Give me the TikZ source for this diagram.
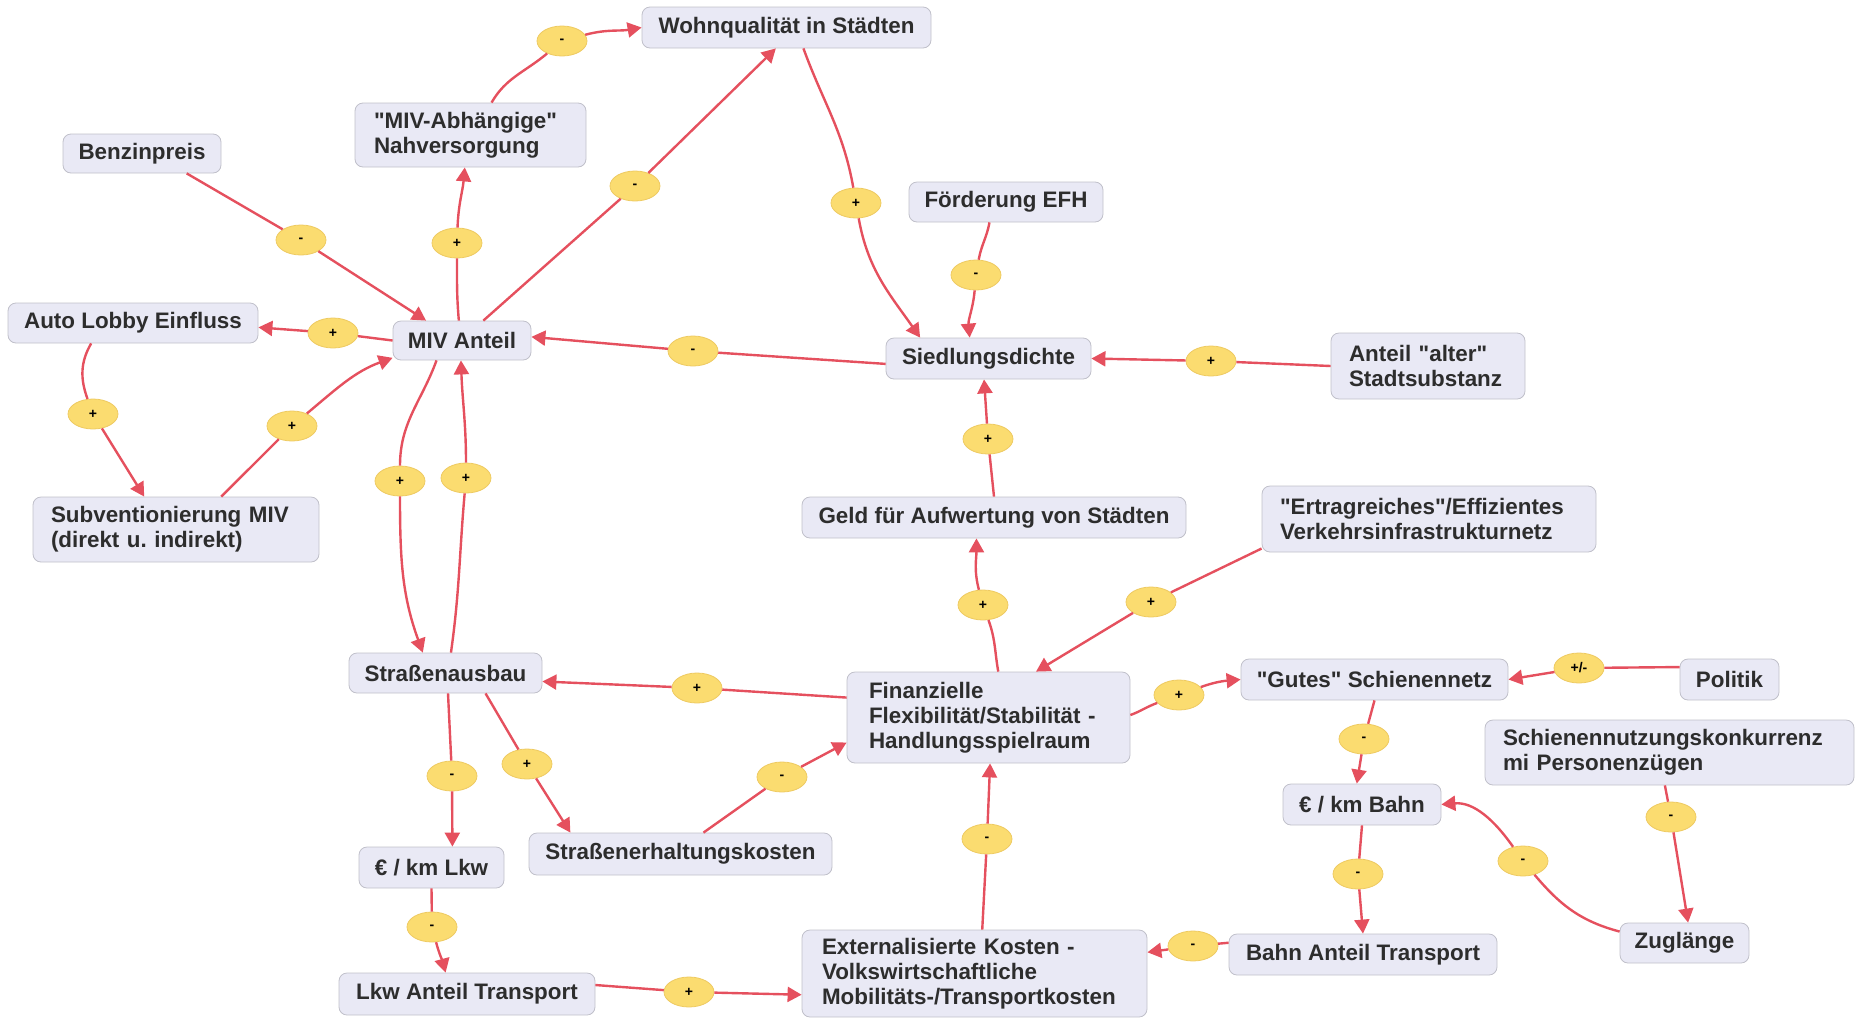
\documentclass[tikz,border=0pt]{standalone}
\usepackage{fontspec}
\setmainfont{Liberation Sans}[Ligatures=TeXOff]
\usetikzlibrary{arrows.meta,shapes.geometric}

\definecolor{linkred}{RGB}{229,80,94}
\definecolor{boxfill}{RGB}{233,233,245}
\definecolor{boxline}{RGB}{192,192,202}
\definecolor{signfill}{RGB}{251,220,112}
\definecolor{signline}{RGB}{238,202,98}
\definecolor{textgray}{RGB}{45,45,45}

\tikzset{
	varbox/.style={draw=boxline, fill=boxfill, rounded corners=4pt, text=textgray,
		font=\fontsize{11.2}{12.5}\selectfont\bfseries, inner xsep=7pt, inner ysep=3pt},
	multibox/.style={varbox, align=left},
	sgn/.style={ellipse, draw=signline, fill=signfill, minimum width=25pt, minimum height=15pt,
		inner sep=0pt, text=black, font=\fontsize{7}{8}\selectfont\bfseries},
	infl/.style={draw=linkred, line width=1.2pt, -{Triangle[length=7pt,width=7.5pt]}},
}

\begin{document}
\begin{tikzpicture}[x=0.5pt,y=-0.5pt]
	\useasboundingbox (0,0) rectangle (1860,1018);

	\node[varbox, minimum width=144.5pt, minimum height=20.5pt] (wohn) at (786.5,27.5) {Wohnqualität in Städten};
	\node[multibox, text width=96.5pt, inner xsep=9.5pt, minimum height=32pt] (nahv) at (470.5,135) {"MIV-Abhängige"\\Nahversorgung};
	\node[varbox, minimum width=79pt, minimum height=19.5pt] (benzin) at (142,153.5) {Benzinpreis};
	\node[varbox, minimum width=97pt, minimum height=20pt] (efh) at (1006,202) {Förderung EFH};
	\node[varbox, minimum width=125pt, minimum height=20pt] (lobby) at (133,323) {Auto Lobby Einfluss};
	\node[varbox, minimum width=69pt, minimum height=19.5pt] (miv) at (462,340.5) {MIV Anteil};
	\node[varbox, minimum width=102.5pt, minimum height=20.5pt] (sied) at (988.5,358.5) {Siedlungsdichte};
	\node[multibox, text width=79pt, inner xsep=9pt, minimum height=33pt] (alt) at (1428,366) {Anteil "alter"\\Stadtsubstanz};
	\node[multibox, text width=125pt, inner xsep=9pt, minimum height=32.5pt] (subv) at (176,529.5) {Subventionierung MIV\\(direkt u.\ indirekt)};
	\node[varbox, minimum width=192pt, minimum height=20.5pt] (geld) at (994,517.5) {Geld für Aufwertung von Städten};
	\node[multibox, text width=149pt, inner xsep=9pt, minimum height=33pt] (ertrag) at (1429,519) {"Ertragreiches"/Effizientes\\Verkehrsinfrastrukturnetz};
	\node[varbox, minimum width=96.5pt, minimum height=20pt] (strass) at (445.5,673) {Straßenausbau};
	\node[multibox, text width=119.5pt, inner xsep=11pt, minimum height=45.5pt] (finanz) at (988.5,717.5) {Finanzielle\\Flexibilität/Stabilität -\\Handlungsspielraum};
	\node[varbox, minimum width=133.5pt, minimum height=20.5pt] (gutes) at (1374.5,679.5) {"Gutes" Schienennetz};
	\node[varbox, minimum width=49.5pt, minimum height=20.5pt] (politik) at (1729.5,679.5) {Politik};
	\node[multibox, text width=166.5pt, inner xsep=9pt, minimum height=32.5pt] (konk) at (1669.5,752.5) {Schienennutzungskonkurrenz\\mi Personenzügen};
	\node[varbox, minimum width=79pt, minimum height=20.5pt] (eurobahn) at (1362,804.5) {€ / km Bahn};
	\node[varbox, minimum width=64.5pt, minimum height=20pt] (zug) at (1684.5,943) {Zuglänge};
	\node[varbox, minimum width=134pt, minimum height=20.5pt] (bahn) at (1363,954.5) {Bahn Anteil Transport};
	\node[multibox, text width=152.5pt, inner xsep=10pt, minimum height=43.5pt] (ext) at (974.5,973.5) {Externalisierte Kosten -\\Volkswirtschaftliche\\Mobilitäts-/Transportkosten};
	\node[varbox, minimum width=128pt, minimum height=21pt] (lkw) at (467,994) {Lkw Anteil Transport};
	\node[varbox, minimum width=72.5pt, minimum height=20.5pt] (eurolkw) at (431.5,867.5) {€ / km Lkw};
	\node[varbox, minimum width=151.5pt, minimum height=21pt] (erhalt) at (680.5,854) {Straßenerhaltungskosten};

	\node[sgn] (e1) at (562,41) {-};
	\node[sgn] (e2) at (635,186) {-};
	\node[sgn] (e3) at (457,243) {+};
	\node[sgn] (e4) at (301,240) {-};
	\node[sgn] (e5) at (333,333) {+};
	\node[sgn] (e6) at (93,414) {+};
	\node[sgn] (e7) at (292,426) {+};
	\node[sgn] (e8) at (400,481) {+};
	\node[sgn] (e9) at (466,478) {+};
	\node[sgn] (e10) at (693,351) {-};
	\node[sgn] (e11) at (856,203) {+};
	\node[sgn] (e12) at (976,275) {-};
	\node[sgn] (e13) at (1211,361) {+};
	\node[sgn] (e14) at (988,439) {+};
	\node[sgn] (e15) at (983,605) {+};
	\node[sgn] (e16) at (1151,602) {+};
	\node[sgn] (e17) at (697,688) {+};
	\node[sgn] (e18) at (527,764) {+};
	\node[sgn] (e19) at (782,777) {-};
	\node[sgn] (e20) at (452,776) {-};
	\node[sgn] (e21) at (432,927) {-};
	\node[sgn] (e22) at (689,992) {+};
	\node[sgn] (e23) at (987,839) {-};
	\node[sgn] (e24) at (1179,695) {+};
	\node[sgn] (e25) at (1579,668) {+/-};
	\node[sgn] (e26) at (1364,739) {-};
	\node[sgn] (e27) at (1358,874) {-};
	\node[sgn] (e28) at (1523,861) {-};
	\node[sgn] (e29) at (1671,817) {-};
	\node[sgn] (e30) at (1193,946) {-};

	\draw[infl] (benzin.-24) -- (e4) -- (miv.151);		%benzin--miv
	\draw[infl] (miv.99) to[out=95,in=-90] (e3) to[out=88,in=-95] (nahv.260);		%miv--nahv
	\draw[infl] (nahv.57) to[out=60,in=-140] (e1) to[out=15,in=190] (wohn.west);		%nahv--wohn
	\draw[infl] (miv.43) -- (e2) -- (wohn.243);		%miv--wohn
	\draw[infl] (miv.west) -- (e5) -- (lobby.-2);		%miv--lobby
	\draw[infl] (lobby.206) to[out=240,in=110] (e6) -- (subv.134);		%lobby--subv
	\draw[infl] (subv.36) to[out=45,in=-135] (e7) to[out=40,in=200] (miv.194);		%subv--miv
	\draw[infl] (miv.218) to[out=250,in=90] (e8) to[out=-90,in=110] (strass.138);		%miv--strass
	\draw[infl] (strass.75) to[out=82,in=-95] (e9) to[out=90,in=-88] (miv.267);		%strass--miv
	\draw[infl] (sied.183) -- (e10) -- (miv.3);		%sied--miv
	%
	\draw[infl] (wohn.-51) to[out=-70,in=100] (e11) to[out=-80,in=125] (sied.163);		%wohn--sied
	\draw[infl] (efh.231) to[out=-100,in=80] (e12) to[out=-95,in=95] (sied.132);		%efh--sied
	\draw[infl] (alt.west) -- (e13) -- (sied.east);		%alt--sied
	\draw[infl] (geld.north) -- (e14) -- (sied.258);		%geld--sied
	\draw[infl] (finanz.78) to[out=100,in=-70] (e15) to[out=105,in=-90] (geld.230);		%finanz--geld
	\draw[infl] (ertrag.190) -- (e16) -- (finanz.44);		%ertrag--finanz
	%
	\draw[infl] (finanz.172) -- (e17) -- (strass.-5);		%finanz--strass
	\draw[infl] (strass.-27) -- (e18) -- (erhalt.169);		%strass--erhalt
	\draw[infl] (erhalt.43) -- (e19) -- (finanz.190);		%erhalt--finanz
	\draw[infl] (strass.-83) -- (e20) -- (eurolkw.45);		%strass--eurolkw
	\draw[infl] (eurolkw.south) -- (e21) to[out=-75,in=105] (lkw.135);		%eurolkw--lkw
	\draw[infl] (lkw.4) -- (e22) -- (ext.187);		%lkw--ext
	\draw[infl] (ext.80) -- (e23) -- (finanz.-88);		%ext--finanz
	%
	\draw[infl] (finanz.1) to[out=20,in=200] (e24) to[out=20,in=185] (gutes.west);		%finanz--gutes
	\draw[infl] (politik.166) -- (e25) -- (gutes.east);		%politik--gutes
	\draw[infl] (gutes.south) -- (e26) -- (eurobahn.104);		%gutes--eurobahn
	\draw[infl] (eurobahn.south) -- (e27) -- (bahn.north);		%eurobahn--bahn
	\draw[infl] (zug.170) to[out=165,in=-50] (e28) to[out=125,in=5] (eurobahn.east);		%zug--eurobahn
	\draw[infl] (konk.262) -- (e29) -- (zug.80);		%konk--zug
	\draw[infl] (bahn.175) -- (e30) -- (ext.7);		%bahn--ext
\end{tikzpicture}
\end{document}
